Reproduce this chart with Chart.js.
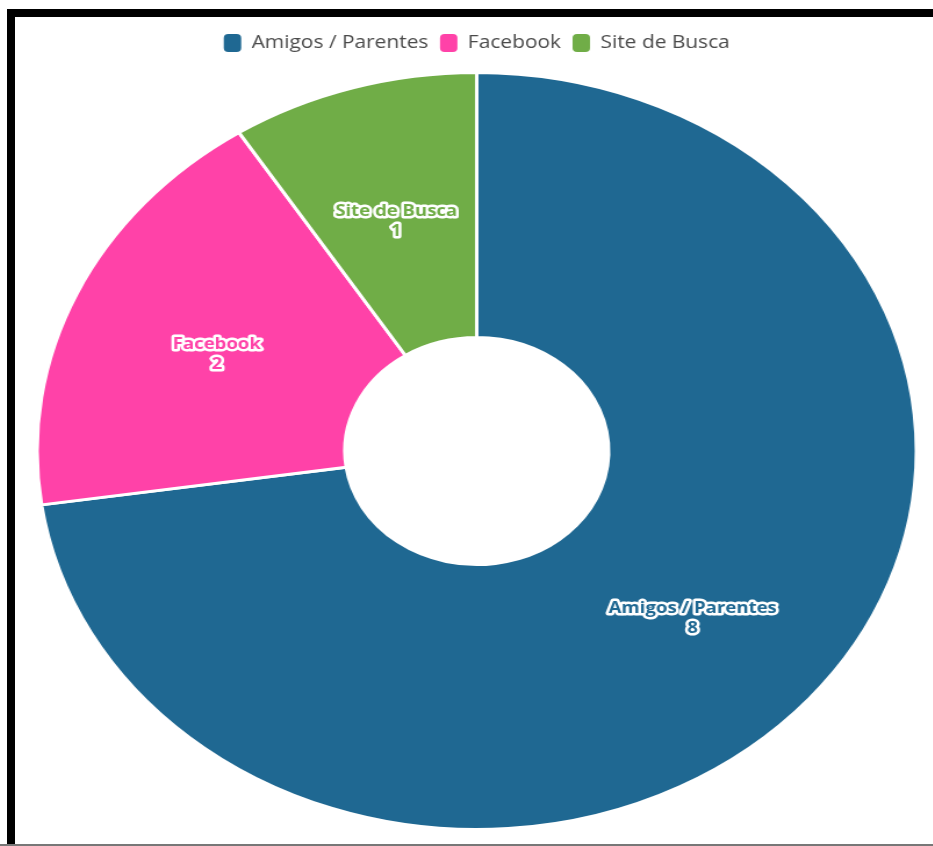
<!DOCTYPE html>
<html>
<head>
<meta charset="utf-8">
<script src="https://cdn.jsdelivr.net/npm/chart.js@4"></script>
<style>
  html, body { margin:0; padding:0; background:#fff; overflow:hidden; }
  body { width:933px; height:846px; position:relative; }
  .frame { position:absolute; left:7px; top:9px; width:960px; height:835px;
           border-left:8px solid #000; border-top:8px solid #000; box-sizing:border-box; }
  .bottom { position:absolute; left:0; top:844px; width:933px; height:2px; background:#777; }
  /* a imagem original está esticada na horizontal */
  .wrap { position:absolute; left:15px; top:17px; width:795px; height:827px;
          transform:scaleX(1.1616); transform-origin:0 0; }
</style>
</head>
<body>
<div class="frame"></div>
<div class="bottom"></div>
<div class="wrap"><canvas id="pie"></canvas></div>
<script>
const categories = ['Amigos / Parentes', 'Facebook', 'Site de Busca'];
const values = [8, 2, 1];
const colors = ['#1F6892', '#FF42A8', '#70AD47'];

// rótulos com contorno branco dentro das fatias
const sliceLabels = {
  id: 'sliceLabels',
  afterDatasetsDraw(chart) {
    const ctx = chart.ctx;
    const meta = chart.getDatasetMeta(0);
    ctx.save();
    ctx.font = 'bold 16px "Open Sans"';
    ctx.textAlign = 'center';
    ctx.textBaseline = 'middle';
    ctx.lineJoin = 'round';
    meta.data.forEach((arc, i) => {
      const p = arc.tooltipPosition();
      const lines = [categories[i], String(values[i])];
      lines.forEach((t, j) => {
        const y = p.y + 6 + (j - 0.5) * 20;
        ctx.lineWidth = 5;
        ctx.strokeStyle = '#fff';
        ctx.strokeText(t, p.x, y);
        ctx.fillStyle = colors[i];
        ctx.fillText(t, p.x, y);
      });
    });
    ctx.restore();
  }
};

// espaço extra abaixo da legenda
const legendGap = {
  id: 'legendGap',
  afterInit(chart) {
    const fit = chart.legend.fit;
    chart.legend.fit = function () {
      fit.call(this);
      this.height += 9;
    };
  }
};

new Chart(document.getElementById('pie'), {
  type: 'doughnut',
  data: {
    labels: categories,
    datasets: [{
      data: values,
      backgroundColor: colors,
      borderColor: '#fff',
      borderWidth: 3
    }]
  },
  options: {
    responsive: true,
    maintainAspectRatio: false,
    animation: false,
    cutout: '30%',
    layout: { padding: { top: 7, bottom: 13 } },
    plugins: {
      tooltip: { enabled: false },
      legend: {
        position: 'top',
        labels: {
          font: { family: 'Open Sans', size: 18 },
          color: '#4a4a4a',
          boxWidth: 15,
          boxHeight: 18,
          useBorderRadius: true,
          borderRadius: 4,
          padding: 10,
          generateLabels(chart) {
            const items = Chart.controllers.doughnut.overrides.plugins.legend.labels.generateLabels(chart);
            items.forEach(it => { it.lineWidth = 0; });
            return items;
          }
        }
      }
    }
  },
  plugins: [sliceLabels, legendGap]
});
</script>
</body>
</html>
